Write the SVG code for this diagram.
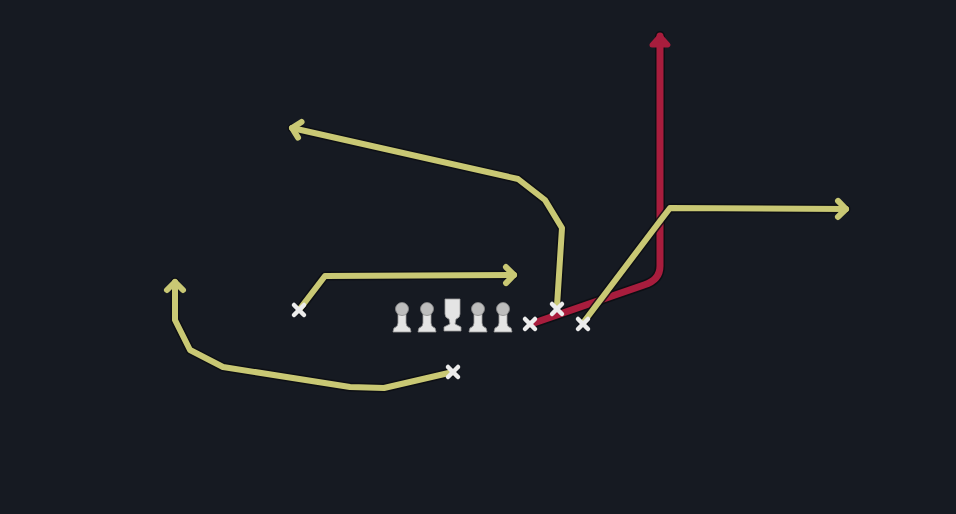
<svg xmlns="http://www.w3.org/2000/svg" width="956" height="514" viewBox="0 0 956 514">
<defs>
<style>
.bg{fill:#161a22}
.rt{fill:none;stroke:#c9c874;stroke-width:6;stroke-linejoin:round;stroke-linecap:round}
.rto{fill:none;stroke:#0b0d12;stroke-width:9;stroke-linejoin:round;stroke-linecap:round;opacity:.8}
.red{fill:none;stroke:#a81d3d;stroke-width:7;stroke-linejoin:round;stroke-linecap:round}
.redo{fill:none;stroke:#0b0d12;stroke-width:10;stroke-linejoin:round;stroke-linecap:round;opacity:.8}
.x{stroke:#ececec;stroke-width:4.5;stroke-linecap:round}
.body{fill:#e4e4e4;stroke:#9a9a9a;stroke-width:0.8}
.head{fill:#bdbdbd;stroke:#8a8a8a;stroke-width:0.8}
</style>
<marker id="ay" markerUnits="userSpaceOnUse" markerWidth="30" markerHeight="30" viewBox="-15 -15 30 30" refX="0" refY="0" orient="auto">
<path d="M-8,-8 L0,0 L-8,8" fill="none" stroke="#c9c874" stroke-width="6" stroke-linecap="round" stroke-linejoin="round"/>
</marker>
<marker id="ar" markerUnits="userSpaceOnUse" markerWidth="30" markerHeight="30" viewBox="-15 -15 30 30" refX="0" refY="0" orient="auto">
<path d="M-9,-8 L0,0 L-9,8 Z" fill="#a81d3d" stroke="#a81d3d" stroke-width="5" stroke-linejoin="round"/>
</marker>
<g id="xm"><line class="x" x1="-5" y1="-5" x2="5" y2="5"/><line class="x" x1="-5" y1="5" x2="5" y2="-5"/></g>
<g id="lm">
<path class="body" d="M-4,-7 L-4,5 Q-4,9 -8,10 L-9,14 L9,14 L8,10 Q4,9 4,5 L4,-7 Z"/>
<circle class="head" cx="0" cy="-9" r="6.5"/>
</g>
</defs>
<rect class="bg" x="0" y="0" width="956" height="514"/>
<g id="connectors">
<path class="redo" d="M531,324 L644,285 Q660,280 660,266 L660,36"/>
<path class="red" d="M531,324 L644,285 Q660,280 660,266 L660,36" marker-end="url(#ar)"/>
<polyline class="rto" points="557,306 562,228 545,200 518,179 292,128"/>
<polyline class="rt" points="557,306 562,228 545,200 518,179 292,128" marker-end="url(#ay)"/>
<polyline class="rto" points="299,310 325,276 514,275"/>
<polyline class="rt" points="299,310 325,276 514,275" marker-end="url(#ay)"/>
<polyline class="rto" points="453,372 384,388 350,387 223,367 190,350 175,320 175,282"/>
<polyline class="rt" points="453,372 384,388 350,387 223,367 190,350 175,320 175,282" marker-end="url(#ay)"/>
<polyline class="rto" points="583,323 657,225 670,208 846,209"/>
<polyline class="rt" points="583,323 657,225 670,208 846,209" marker-end="url(#ay)"/>
</g>
<g id="players">
<g id="x1"><use href="#xm" x="299" y="310"/></g>
<g id="x2"><use href="#xm" x="453" y="372"/></g>
<g id="x3"><use href="#xm" x="530" y="324"/></g>
<g id="x4"><use href="#xm" x="557" y="309"/></g>
<g id="x5"><use href="#xm" x="583" y="324"/></g>
<g id="ol1"><use href="#lm" x="402" y="318"/></g>
<g id="ol2"><use href="#lm" x="427" y="318"/></g>
<g id="center"><path class="body" d="M445,299 L460,299 L460,314 Q460,318 456,319 L455,324 L461,327 L461,331 L444,331 L444,327 L450,324 L449,319 Q445,318 445,314 Z"/></g>
<g id="ol4"><use href="#lm" x="478" y="318"/></g>
<g id="ol5"><use href="#lm" x="503" y="318"/></g>
</g>
</svg>
